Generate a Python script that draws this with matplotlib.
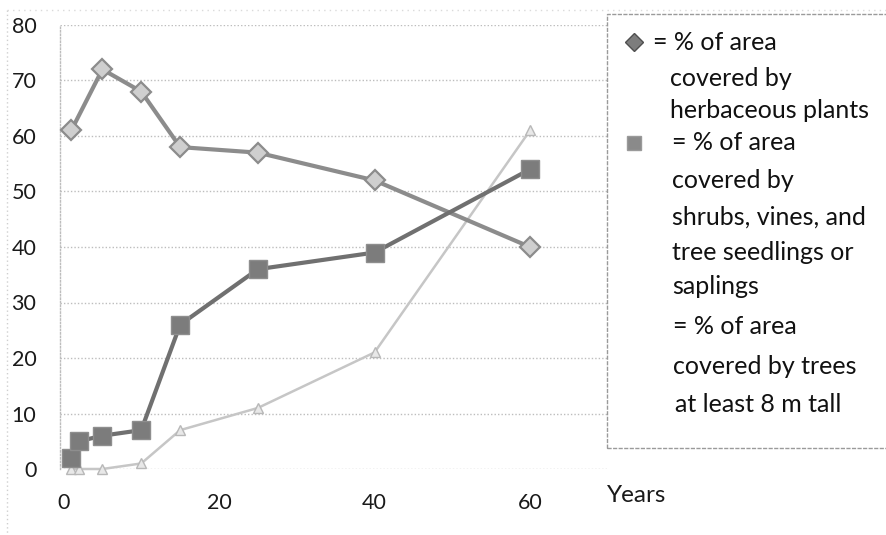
import matplotlib
matplotlib.use("Agg")
import matplotlib.pyplot as plt
from matplotlib.lines import Line2D
from matplotlib.patches import Rectangle

# Data
herb_x = [1, 5, 10, 15, 25, 40, 60]
herb_y = [61, 72, 68, 58, 57, 52, 40]
shrub_x = [1, 2, 5, 10, 15, 25, 40, 60]
shrub_y = [2, 5, 6, 7, 26, 36, 39, 54]
tree_x = [1, 2, 5, 10, 15, 25, 40, 60]
tree_y = [0, 0, 0, 1, 7, 11, 21, 61]
x_ticks = [0, 20, 40, 60]
y_ticks = [0, 10, 20, 30, 40, 50, 60, 70, 80]

legend_lines = [
    (653, 42, "= % of area"), (670, 78, "covered by"), (670, 111, "herbaceous plants"),
    (672, 142, "= % of area"), (672, 180, "covered by"), (672, 217, "shrubs, vines, and"),
    (672, 252, "tree seedlings or"), (672, 287, "saplings"),
    (673, 326, "= % of area"), (673, 366, "covered by trees"), (675, 404, "at least 8 m tall"),
]

W, H = 886, 535
plt.rcParams['font.family'] = ['Lato', 'DejaVu Sans']
fig = plt.figure(figsize=(W / 100, H / 100), dpi=100)
fig.patch.set_facecolor('white')

def fx(px):
    return px / W

def fy(py):
    return 1 - py / H

# faint chart-area border (scan edges)
fig.add_artist(Line2D([fx(7), fx(7)], [fy(10), fy(535)], color='#cfcfcf', lw=1,
                      linestyle=(0, (1, 2)), transform=fig.transFigure))
fig.add_artist(Line2D([fx(7), fx(886)], [fy(10), fy(10)], color='#dadada', lw=1,
                      linestyle=(0, (1, 3)), transform=fig.transFigure))

ax = fig.add_axes([fx(60), fy(469), fx(607) - fx(60), fy(25) - fy(469)])
ax.set_xlim(-0.45, 69.9)
ax.set_ylim(0, 80)
ax.patch.set_alpha(0)

for s in ['top', 'right', 'bottom']:
    ax.spines[s].set_visible(False)
ax.spines['left'].set_color('#bdbdbd')
ax.spines['left'].set_linestyle((0, (1, 1.5)))
ax.spines['left'].set_linewidth(1)

ax.set_yticks(y_ticks)
ax.set_xticks(x_ticks)
ax.tick_params(axis='both', length=0, labelsize=15.5, colors='#1a1a1a')
ax.tick_params(axis='y', pad=17)
ax.tick_params(axis='x', pad=17)
ax.grid(axis='y', color='#bdbdbd', linestyle=(0, (1, 1.5)), linewidth=1)
ax.set_axisbelow(True)

ax.plot(tree_x, tree_y, color='#c6c6c6', linewidth=1.8, marker='^', markersize=7,
        markerfacecolor='#e8e8e8', markeredgecolor='#b8b8b8', clip_on=False, zorder=3)
ax.plot(herb_x, herb_y, color='#8c8c8c', linewidth=3, marker='D', markersize=10.5,
        markerfacecolor='#cfcfcf', markeredgecolor='#8c8c8c', markeredgewidth=1.6,
        clip_on=False, zorder=4)
ax.plot(shrub_x, shrub_y, color='#707070', linewidth=3, marker='s', markersize=13,
        markerfacecolor='#7c7c7c', markeredgecolor='#8e8e8e', clip_on=False, zorder=5)

fig.text(fx(607), fy(502), "Years", fontsize=17.5, color='#1a1a1a', va='baseline', ha='left')

# legend frame
fig.patches.append(Rectangle((fx(607), fy(448)), fx(900) - fx(607), fy(14) - fy(448),
                             transform=fig.transFigure, fill=True, facecolor='white',
                             edgecolor='#9a9a9a', linewidth=1, linestyle=(0, (3, 1)),
                             zorder=6))
fig.add_artist(Line2D([fx(634)], [fy(42)], marker='D', markersize=9, color='#6a6a6a',
                      markerfacecolor='#7d7d7d', markeredgecolor='#4f4f4f',
                      transform=fig.transFigure, zorder=7))
fig.add_artist(Line2D([fx(634)], [fy(143)], marker='s', markersize=9.5, color='#8a8a8a',
                      markerfacecolor='#8a8a8a', markeredgecolor='#9a9a9a',
                      transform=fig.transFigure, zorder=7))
for x, y, t in legend_lines:
    fig.text(fx(x), fy(y), t, fontsize=18, color='#111111', va='center', ha='left', zorder=8)

fig.savefig("out.png", dpi=100, facecolor='white')
